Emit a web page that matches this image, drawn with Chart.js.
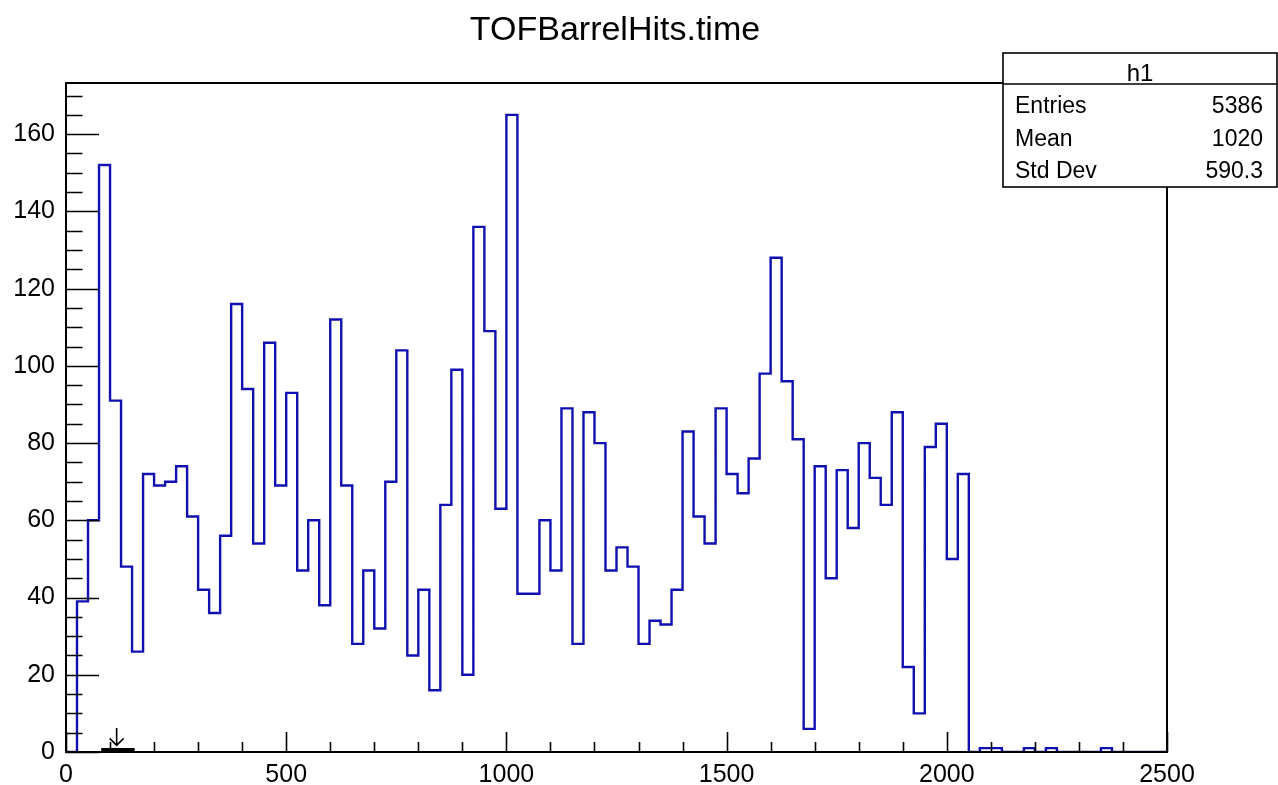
<!DOCTYPE html>
<html>
<head>
<meta charset="utf-8">
<title>TOFBarrelHits.time</title>
<script src="https://cdn.jsdelivr.net/npm/chart.js@4.4.1/dist/chart.umd.min.js"></script>
<style>
  html, body { margin: 0; padding: 0; background: #fff; }
  #wrap { width: 1278px; height: 785px; }
</style>
</head>
<body>
<div id="wrap"><canvas id="h1" width="1278" height="785"></canvas></div>
<script>
// histogram h1 : 100 bins of 25 from 0 to 2500
const histTitle = 'TOFBarrelHits.time';
const binWidth = 25;
const binCounts = [
  0, 39, 60, 152, 91, 48, 26, 72, 69, 70,
  74, 61, 42, 36, 56, 116, 94, 54, 106, 69,
  93, 47, 60, 38, 112, 69, 28, 47, 32, 70,
  104, 25, 42, 16, 64, 99, 20, 136, 109, 63,
  165, 41, 41, 60, 47, 89, 28, 88, 80, 47,
  53, 48, 28, 34, 33, 42, 83, 61, 54, 89,
  72, 67, 76, 98, 128, 96, 81, 6, 74, 45,
  73, 58, 80, 71, 64, 88, 22, 10, 79, 85,
  50, 72, 0, 1, 1, 0, 0, 1, 0, 1,
  0, 0, 0, 0, 1, 0, 0, 0, 0, 0
];
const xTicks = [0, 500, 1000, 1500, 2000, 2500];
const yTicks = [0, 20, 40, 60, 80, 100, 120, 140, 160];
const yMax = 173.25;

// stats box
const statName = 'h1';
const statLabels = ['Entries', 'Mean', 'Std Dev'];
const statValues = ['5386', '1020', '590.3'];

// small arrow marker near the origin (data units)
const arrowMark = { x: 115, yTop: 6.2, yTip: 1.7, barFrom: 80, barTo: 156 };

const FONT = '"Liberation Sans", Arial, Helvetica, sans-serif';
const lineBlue = '#1010b0';

// step outline : one point per left bin edge + closing point
const steps = binCounts.map((c, i) => ({ x: i * binWidth, y: c }));
steps.push({ x: binCounts.length * binWidth, y: binCounts[binCounts.length - 1] });

const rootStyle = {
  id: 'rootStyle',
  afterDraw(chart) {
    const { ctx, chartArea: a, scales: { x, y } } = chart;
    ctx.save();
    ctx.strokeStyle = '#000';

    // title (ROOT centres it on the pad, not on the frame)
    ctx.fillStyle = '#000';
    ctx.font = '34px ' + FONT;
    ctx.textAlign = 'center';
    ctx.textBaseline = 'alphabetic';
    ctx.fillText(histTitle, 615, 40);

    // frame
    ctx.lineWidth = 2;
    ctx.strokeRect(a.left, a.top, a.right - a.left, a.bottom - a.top);

    // inward ticks, y : every 5, long every 20
    ctx.lineWidth = 1.6;
    ctx.beginPath();
    for (let v = 0; v <= yMax; v += 5) {
      const py = Math.round(y.getPixelForValue(v)) + 0.5;
      const len = v % 20 === 0 ? 33 : 16.5;
      ctx.moveTo(a.left, py);
      ctx.lineTo(a.left + len, py);
    }
    // x : every 100, long every 500
    for (let v = 0; v <= 2500; v += 100) {
      const px = Math.round(x.getPixelForValue(v)) + 0.5;
      const len = v % 500 === 0 ? 20 : 10;
      ctx.moveTo(px, a.bottom);
      ctx.lineTo(px, a.bottom - len);
    }
    ctx.stroke();

    // arrow marker
    const ax = x.getPixelForValue(arrowMark.x);
    const aTop = y.getPixelForValue(arrowMark.yTop);
    const aTip = y.getPixelForValue(arrowMark.yTip);
    ctx.lineWidth = 1.6;
    ctx.beginPath();
    ctx.moveTo(ax, aTop);
    ctx.lineTo(ax, aTip);
    ctx.moveTo(ax - 7, aTip - 7);
    ctx.lineTo(ax, aTip);
    ctx.lineTo(ax + 7, aTip - 7);
    ctx.stroke();
    ctx.lineWidth = 4;
    ctx.beginPath();
    ctx.moveTo(x.getPixelForValue(arrowMark.barFrom), a.bottom - 2);
    ctx.lineTo(x.getPixelForValue(arrowMark.barTo), a.bottom - 2);
    ctx.stroke();

    // stats box
    const bx = 1003, by = 53, bw = 274, bh = 134, head = 31;
    ctx.fillStyle = '#fff';
    ctx.fillRect(bx, by, bw, bh);
    ctx.lineWidth = 1.6;
    ctx.strokeRect(bx, by, bw, bh);
    ctx.beginPath();
    ctx.moveTo(bx, by + head);
    ctx.lineTo(bx + bw, by + head);
    ctx.stroke();
    ctx.fillStyle = '#000';
    ctx.font = '24px ' + FONT;
    ctx.textAlign = 'center';
    ctx.fillText(statName, bx + bw / 2, by + 28);
    ctx.font = '23px ' + FONT;
    statLabels.forEach((lab, i) => {
      const ty = by + 60 + i * 32.5;
      ctx.textAlign = 'left';
      ctx.fillText(lab, bx + 12, ty);
      ctx.textAlign = 'right';
      ctx.fillText(statValues[i], bx + bw - 14, ty);
    });
    ctx.restore();
  }
};

new Chart(document.getElementById('h1'), {
  type: 'line',
  data: {
    datasets: [{
      label: statName,
      data: steps,
      stepped: 'before',
      borderColor: lineBlue,
      borderWidth: 2.4,
      pointRadius: 0,
      fill: false,
      tension: 0
    }]
  },
  options: {
    responsive: false,
    animation: false,
    events: [],
    layout: { padding: { left: 0, right: 111, top: 83, bottom: 0 } },
    plugins: {
      legend: { display: false },
      tooltip: { enabled: false },
      title: { display: false }
    },
    scales: {
      x: {
        type: 'linear',
        min: 0,
        max: 2500,
        grid: { display: false, drawTicks: false },
        border: { display: false },
        afterBuildTicks: s => { s.ticks = xTicks.map(v => ({ value: v })); },
        afterFit: s => { s.height = 33; },
        ticks: {
          autoSkip: false,
          maxRotation: 0,
          padding: 8,
          color: '#000',
          font: { family: FONT, size: 25 },
          callback: v => String(v)
        }
      },
      y: {
        type: 'linear',
        min: 0,
        max: yMax,
        grid: { display: false, drawTicks: false },
        border: { display: false },
        afterBuildTicks: s => { s.ticks = yTicks.map(v => ({ value: v })); },
        afterFit: s => { s.width = 66; },
        ticks: {
          padding: 11,
          color: '#000',
          font: { family: FONT, size: 25 },
          callback: v => String(v)
        }
      }
    }
  },
  plugins: [rootStyle]
});
</script>
</body>
</html>
